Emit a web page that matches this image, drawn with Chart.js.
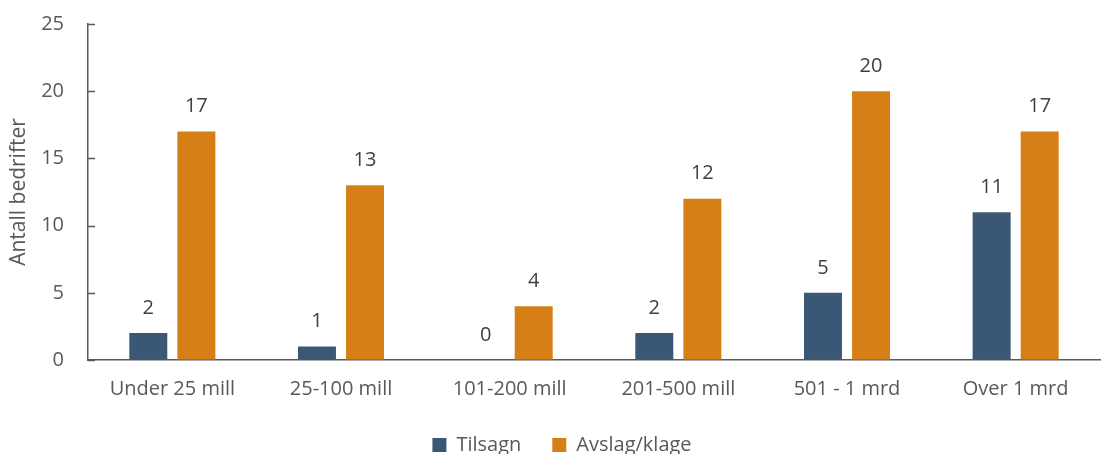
<!DOCTYPE html>
<html>
<head>
<meta charset="utf-8">
<script src="https://cdn.jsdelivr.net/npm/chart.js@4/dist/chart.umd.min.js"></script>
<style>
  html, body { margin: 0; padding: 0; background: #fff; }
  #wrap { width: 1102px; height: 454px; }
</style>
</head>
<body>
<div id="wrap"><canvas id="chart"></canvas></div>
<script>
const categories = ['Under 25 mill', '25-100 mill', '101-200 mill', '201-500 mill', '501 - 1 mrd', 'Over 1 mrd'];
const tilsagn = [2, 1, 0, 2, 5, 11];
const avslag = [17, 13, 4, 12, 20, 17];
const yTicks = [0, 5, 10, 15, 20, 25];

const FONT = '"Open Sans", sans-serif';
const SIZE = 20;
const GREY = '#595959';

// number above every bar
const valueLabels = {
  id: 'valueLabels',
  afterDatasetsDraw(chart) {
    const ctx = chart.ctx;
    ctx.save();
    ctx.font = SIZE + 'px ' + FONT;
    ctx.fillStyle = '#404040';
    ctx.textAlign = 'center';
    ctx.textBaseline = 'middle';
    chart.data.datasets.forEach((ds, i) => {
      chart.getDatasetMeta(i).data.forEach((bar, j) => {
        ctx.fillText(String(ds.data[j]), bar.x, bar.y - 25);
      });
    });
    ctx.restore();
  }
};

// short tick marks pointing into the plot from the y axis
const innerTicks = {
  id: 'innerTicks',
  afterDraw(chart) {
    const y = chart.scales.y;
    const ctx = chart.ctx;
    ctx.save();
    ctx.strokeStyle = GREY;
    ctx.lineWidth = 1.5;
    y.ticks.forEach(t => {
      const py = Math.round(y.getPixelForValue(t.value)) + 0.5;
      ctx.beginPath();
      ctx.moveTo(y.right, py);
      ctx.lineTo(y.right + 7, py);
      ctx.stroke();
    });
    ctx.restore();
  }
};

// nudge the legend a bit to the right of the canvas centre
const legendShift = {
  id: 'legendShift',
  afterLayout(chart) {
    if (chart.legend) {
      chart.legend.left += 12;
      chart.legend.right += 12;
    }
  }
};

new Chart(document.getElementById('chart'), {
  type: 'bar',
  data: {
    labels: categories,
    datasets: [
      { label: 'Tilsagn', data: tilsagn, backgroundColor: '#3a5775' },
      { label: 'Avslag/klage', data: avslag, backgroundColor: '#d77f17' }
    ]
  },
  options: {
    responsive: true,
    maintainAspectRatio: false,
    animation: false,
    datasets: { bar: { categoryPercentage: 0.57, barPercentage: 0.79 } },
    layout: { padding: { top: 24, right: 2, left: 0, bottom: 0 } },
    plugins: {
      tooltip: { enabled: false },
      legend: {
        position: 'bottom',
        maxHeight: 50,
        labels: {
          font: { family: FONT, size: SIZE },
          color: GREY,
          boxWidth: 14,
          boxHeight: 14,
          padding: 31
        }
      }
    },
    scales: {
      x: {
        afterFit: s => { s.height = 44; },
        grid: { display: false, drawTicks: false },
        border: { color: GREY, width: 1.5 },
        ticks: { font: { family: FONT, size: SIZE }, color: GREY, padding: 17 }
      },
      y: {
        min: 0,
        max: 25,
        afterBuildTicks: s => { s.ticks = yTicks.map(v => ({ value: v })); },
        afterFit: s => { s.width = 88; },
        // invisible outer ticks just space the labels away from the axis
        grid: { drawOnChartArea: false, tickLength: 24, tickColor: 'rgba(0,0,0,0)' },
        border: { color: GREY, width: 1.5 },
        ticks: { font: { family: FONT, size: SIZE }, color: GREY, padding: 0 },
        title: {
          display: true,
          text: 'Antall bedrifter',
          font: { family: FONT, size: 21 },
          color: GREY,
          padding: { top: 6, bottom: 0 }
        }
      }
    }
  },
  plugins: [valueLabels, innerTicks, legendShift]
});
</script>
</body>
</html>
